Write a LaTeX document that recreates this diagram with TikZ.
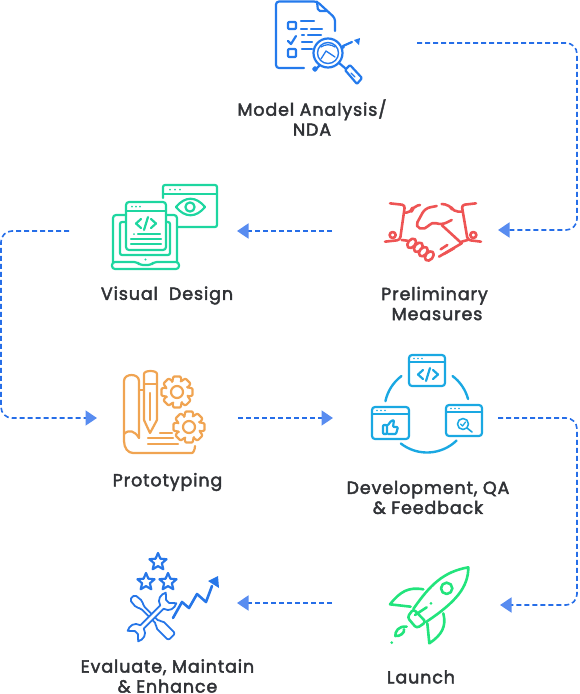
\documentclass[tikz,border=0pt]{standalone}
\usepackage{fontspec}
\usepackage{tikz}
\usetikzlibrary{arrows.meta}
\usetikzlibrary{shapes.geometric}
\newfontfamily\labelfont{Poppins}[FakeBold=2.4,LetterSpace=5]
\definecolor{flowblue}{RGB}{38,110,232}
\definecolor{headblue}{RGB}{88,140,240}
\definecolor{labelgray}{RGB}{48,50,54}
\definecolor{docblue}{RGB}{36,122,236}
\definecolor{screengreen}{RGB}{30,214,160}
\definecolor{handred}{RGB}{238,84,84}
\definecolor{sketchorange}{RGB}{240,164,82}
\definecolor{devblue}{RGB}{26,168,226}
\definecolor{toolblue}{RGB}{38,118,232}
\definecolor{rocketgreen}{RGB}{34,228,124}
\tikzset{
    flowarrow/.style={
        line width=1.6pt,
        flowblue,
        dash pattern=on 5pt off 3pt,
        rounded corners=11pt,
        -{Triangle[length=11.5pt, width=15pt, color=headblue]}
    },
    iconline/.style={
        line width=2.2pt,
        line cap=round,
        line join=round
    },
    steplabel/.style={
        labelgray,
        align=center,
        inner sep=0pt,
        font=\labelfont\fontsize{17.5}{20}\selectfont
    },
    starmark/.style={
        star,
        star points=5,
        star point ratio=2.2,
        draw,
        line width=2.2pt,
        inner sep=0pt,
        minimum size=18pt
    }
}

\begin{document}
\begin{tikzpicture}[x=1pt,y=-1pt]
    \useasboundingbox (0,0) rectangle (580,694);
    \path
    (417,43) coordinate (m1)
    (577,43) coordinate (m2)
    (577,230) coordinate (m3)
    (498,230) coordinate (m4)
    (332,231) coordinate (p1)
    (237,231) coordinate (p2)
    (69,231) coordinate (v1)
    (1,231) coordinate (v2)
    (1,418) coordinate (v3)
    (97,418) coordinate (v4)
    (238,418) coordinate (t1)
    (333,418) coordinate (t2)
    (498,418) coordinate (d1)
    (577,418) coordinate (d2)
    (577,605) coordinate (d3)
    (500,605) coordinate (d4)
    (332,603) coordinate (l1)
    (237,603) coordinate (l2);
    % ===================== connectors =====================
    \draw[flowarrow] (m1) -- (m2) -- (m3) -- (m4);
    \draw[flowarrow] (p1) -- (p2);
    \draw[flowarrow] (v1) -- (v2) -- (v3) -- (v4);
    \draw[flowarrow] (t1) -- (t2);
    \draw[flowarrow] (d1) -- (d2) -- (d3) -- (d4);
    \draw[flowarrow] (l1) -- (l2);

    % ===================== labels =====================
    \node[steplabel] (modellabel) at (312,117.5) {Model Analysis/\\NDA};
    \node[steplabel] (visuallabel) at (167,295.5) {Visual\ \ Design};
    \node[steplabel] (prelimlabel) at (434.5,303.5) {Preliminary\\\hspace*{5pt}Measures};
    \node[steplabel] (protolabel) at (167.5,482) {Prototyping};
    \node[steplabel] (devlabel) at (428,497.5) {Development, QA\\\& Feedback};
    \node[steplabel] (launchlabel) at (421,677) {Launch};
    \node[steplabel] (evallabel) at (167.5,676) {Evaluate, Maintain\\\& Enhance};

    % ===================== model analysis =====================
    \begin{scope}[iconline,docblue]
     \draw[rounded corners=3pt] (304,68) -- (276,68) -- (276,1.5) -- (317,1.5) -- (335,18) -- (335,31);
     \draw[rounded corners=2pt] (317,1.5) -- (318,11) -- (327,11);
     \draw[rounded corners=1pt] (288,22) rectangle (296,29);
     \draw[rounded corners=1pt] (288,49) rectangle (296,57);
     \draw (288,41) -- (291,44) -- (296,36);
     \draw (301,21) -- (314,21);
     \draw (301,29) -- (307,29);
     \draw (311,29) -- (322,29);
     \draw (302,35) -- (304,35);
     \draw (308,35) -- (321,35);
     \draw (302,42) -- (312,42);
     \draw (302,49) -- (312,49);
     \draw (328,53) circle (14.5);
     \draw[line width=1.4pt] (328,53) circle (10.5);
     \draw[line width=1.3pt] (321,59) -- (326,51) -- (335,57);
     \draw[line width=1.3pt] (321,47) .. controls (325,44) and (331,44) .. (335,47);
     \draw (315,69) circle (1.8);
     \draw (317,68) -- (320,65);
     \draw (339,63) -- (345,68);
     \draw[rounded corners=1pt] (345,70) -- (350,65) -- (362,78) -- (357,84) -- cycle;
     \draw[line width=1.3pt] (351,73) -- (355,77);
     \draw (343,46) -- (352,42);
     \draw (343,47) circle (0.8);
     \fill (360,38) -- (354,40) -- (359,45) -- cycle;
    \end{scope}

    % ===================== visual design =====================
    \begin{scope}[iconline,screengreen]
     \draw[rounded corners=3pt] (126,215) -- (113,215) -- (113,262);
     \draw[rounded corners=3pt] (177,262) -- (177,215) -- (166,215);
     \draw[rounded corners=2pt] (126,222) -- (120,222) -- (120,255) -- (170,255) -- (170,222) -- (166,222);
     \draw[rounded corners=3pt] (112,262) -- (137,262) -- (140,265) -- (151,265) -- (154,262) -- (179,262) -- (179,269) -- (112,269) -- cycle;
     \fill (145.5,259.5) circle (1.2);
     \draw[rounded corners=3pt] (126,202) rectangle (166,250);
     \draw (126,211) -- (166,211);
     \foreach \i in {132,136,140}
      \fill (\i,206.5) circle (1);
     \draw (141,219) -- (136,223.5) -- (141,228);
     \draw (151,219) -- (156,223.5) -- (151,228);
     \draw (148,217) -- (144,230);
     \fill (134,234) circle (1);
     \draw (138,234) -- (160,234);
     \draw (131,239) -- (161,239);
     \draw (131,244) -- (161,244);
     \draw[rounded corners=2pt] (163,198) -- (163,185) -- (217,185) -- (217,227) -- (178,227);
     \draw (163,194) -- (217,194);
     \foreach \i in {170,175,180}
      \fill (\i,189.5) circle (1);
     \draw (176,207) .. controls (185,196) and (196,196) .. (205,207) .. controls (196,218) and (185,218) .. (176,207) -- cycle;
     \draw (190,207) circle (4.6);
    \end{scope}

    % ===================== preliminary measures =====================
    \begin{scope}[iconline,line width=2.6pt,handred,shift={(370,190)},scale=0.3333]
     \draw[rounded corners=3pt] (60,40) -- (105,45) -- (90,150) -- (45,155);
     \draw[rounded corners=3pt] (318,40) -- (275,45) -- (293,150) -- (333,155);
     \draw (68,135) circle (9);
     \draw (310,135) circle (9);
     \draw[rounded corners=5pt] (103,68) -- (124,68) -- (128,50) -- (150,45);
     \draw[rounded corners=5pt] (200,48) -- (165,55) -- (135,110) -- (165,120) -- (185,95) -- (215,105) -- (245,90);
     \draw[rounded corners=5pt] (215,42) -- (240,45) -- (250,65) -- (277,65);
     \draw (215,105) -- (275,160) -- (207,200);
     \draw (212,178) -- (232,165);
     \draw (222,192) -- (252,175);
     \draw (275,155) -- (293,150);
     \draw (95,150) -- (112,152);
     \foreach \i/\j in {125/160,145/172,160/185,178/198}
      \draw[fill=white,rotate around={50:(\i,\j)}] (\i,\j) ellipse (16 and 11);
    \end{scope}

    % ===================== prototyping =====================
    \begin{scope}[iconline,sketchorange]
     \draw[rounded corners=3pt] (139,438) -- (139,384) .. controls (139,373) and (124,373) .. (124,384) -- (124,438) .. controls (124,448) and (128,453) .. (136,453) -- (189,453) .. controls (193,453) and (195,450) .. (195,446);
     \draw (124,434) .. controls (129,429) and (135,431) .. (139,438);
     \draw (139,390) -- (144,390);
     \draw[rounded corners=4pt] (144,420) -- (144,378) .. controls (144,370) and (157,370) .. (157,378) -- (157,420);
     \draw (144,420) -- (150,433) -- (157,420);
     \draw (144,384) -- (157,384);
     \draw (150,393) -- (150,420);
     \draw (160,433) -- (172,433);
     \draw (148,438) -- (173,438);
     \draw (148,444) -- (178,444);
     \foreach \i/\j in {177/392,189/427}{
      \draw (\i,\j) circle (6);
      \foreach \a in {0,45,...,315}
       \draw[shift={(\i,\j)},rounded corners=1pt] (\a-24:11.5) -- (\a-13:16) -- (\a+13:16) -- (\a+24:11.5) -- (\a+21:11.5);
     }
    \end{scope}

    % ===================== development =====================
    \begin{scope}[iconline,devblue]
     \foreach \xa/\ya/\xb/\yb in {409/355/445/386,372/407/409/439,446/405/482/436}{
      \draw[rounded corners=3pt] (\xa,\ya) rectangle (\xb,\yb);
      \draw (\xa,\ya+7) -- (\xb,\ya+7);
      \foreach \d in {5,9,13}
       \fill (\xa+\d,\ya+3.5) circle (0.9);
     }
     \draw (423,370) -- (418,374.5) -- (423,379);
     \draw (433,370) -- (438,374.5) -- (433,379);
     \draw (430,368) -- (426,381);
     \draw[rounded corners=1pt] (383,425) rectangle (387,434);
     \draw[rounded corners=1pt] (388,425) -- (391,421) -- (394,420) -- (393,427) -- (398,427) -- (396,434) -- (388,434);
     \draw[line width=1.6pt] (463,424) circle (5.5);
     \draw[line width=1.6pt] (467,428) -- (472,432);
     \draw[line width=1.3pt] (460.5,424) -- (462.5,426) -- (465.5,422);
     \foreach \s/\e in {233/192,307/345,46/128}
      \draw[line width=2.4pt] ([shift={(\s:42.5)}]427,410) arc[start angle=\s, end angle=\e, radius=42.5];
    \end{scope}

    % ===================== evaluate =====================
    \begin{scope}[iconline,toolblue]
     \node[starmark] (star1) at (158,562) {};
     \node[starmark] (star2) at (146,582) {};
     \node[starmark] (star3) at (168,582) {};
     \draw[line width=2.6pt] (173,618) -- (182,602) -- (189,608) -- (197,594) -- (206,602) -- (212,586);
     \fill (218,576) -- (208,581) -- (219,588) -- cycle;
     \begin{scope}[shift={(152,617)},rotate=-45]
      \draw[fill=white,line width=1.8pt,rounded corners=2pt] (-28,-3.5) -- (-18,-4.5) -- (-14,-1.8) -- (8,-1.8) -- (10,-4.8) -- (28,-4.8) -- (28,4.8) -- (10,4.8) -- (8,1.8) -- (-14,1.8) -- (-18,4.5) -- (-28,3.5) -- cycle;
     \end{scope}
     \begin{scope}[shift={(152,617)},rotate=45]
      \draw[fill=white,line width=1.8pt] (-14,2.4) -- (14,2.4) .. controls (16,9) and (22,10) .. (27,7.5) -- (22,2) -- (22,-2) -- (27,-7.5) .. controls (22,-10) and (16,-9) .. (14,-2.4) -- (-14,-2.4) .. controls (-16,-9) and (-22,-10) .. (-27,-7.5) -- (-22,-2) -- (-22,2) -- (-27,7.5) .. controls (-22,10) and (-16,9) .. (-14,2.4) -- cycle;
     \end{scope}
    \end{scope}

    % ===================== launch =====================
    \begin{scope}[iconline,line width=2.6pt,rocketgreen,shift={(380,560)},scale=0.3333]
     \draw (100,147) .. controls (150,75) and (190,35) .. (265,22) .. controls (265,80) and (230,125) .. (138,186);
     \draw[rounded corners=3pt] (100,147) -- (82,172) -- (110,205) -- (138,186) -- cycle;
     \draw (105,165) -- (140,142);
     \draw (130,88) .. controls (85,80) and (60,95) .. (30,133) -- (92,140);
     \draw (190,160) .. controls (200,200) and (185,225) .. (148,250) -- (142,190);
     \draw (200,85) circle (17);
     \fill (153,130) circle (4.5);
     \draw (80,200) .. controls (55,197) and (45,215) .. (46,228) .. controls (60,230) and (75,218) .. (72,208);
     \fill (35,248) circle (4.5);
    \end{scope}
\end{tikzpicture}
\end{document}
